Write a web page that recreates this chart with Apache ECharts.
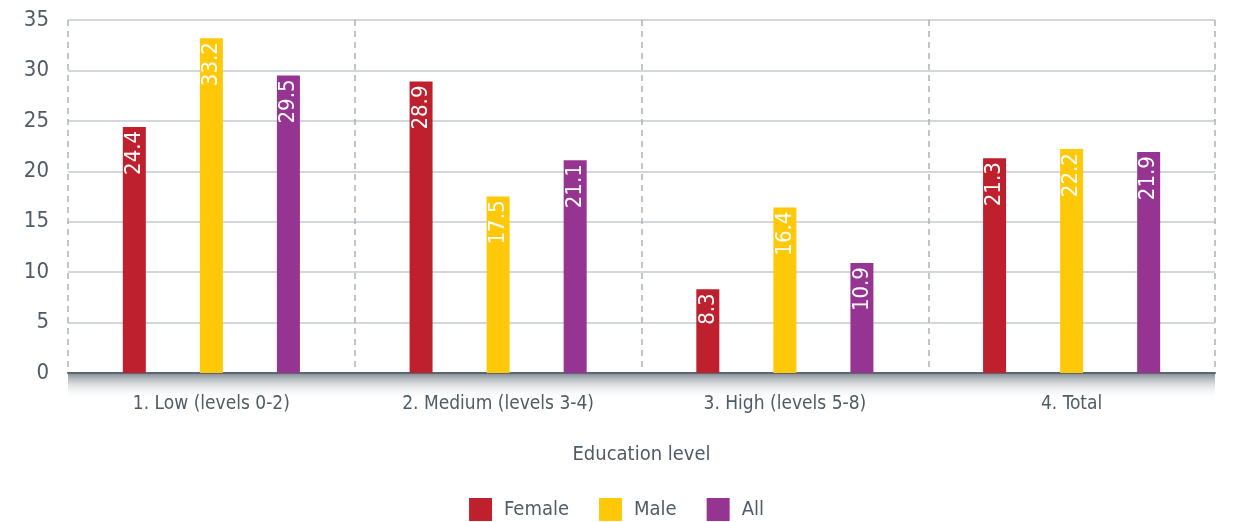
<!DOCTYPE html>
<html>
  <head>
    <meta charset="utf-8" />
    <title>Education level</title>
    <script src="https://cdn.jsdelivr.net/npm/echarts@6/dist/echarts.min.js"></script>
  </head>
  <body style="margin:0;background:#fff;">
    <div id="container" style="width: 1233px;height: 522px;"></div>
    <script type="text/javascript">
    // data
    var categories = ['1. Low (levels 0-2)', '2. Medium (levels 3-4)', '3. High (levels 5-8)', '4. Total'];
    var female = [24.4, 28.9, 8.3, 21.3];
    var male = [33.2, 17.5, 16.4, 22.2];
    var all = [29.5, 21.1, 10.9, 21.9];
    var yTicks = [0, 5, 10, 15, 20, 25, 30, 35];

    var fontFam = "'DejaVu Sans Condensed', 'Liberation Sans Narrow', sans-serif";
    var textCol = '#4f5b66';

    var myChart = echarts.init(document.getElementById('container'));

    function barSeries(name, data, color) {
        return {
            name: name,
            type: 'bar',
            data: data,
            barWidth: 23,
            barGap: '235%',
            itemStyle: { color: color },
            label: {
                show: true,
                position: 'insideTop',
                rotate: 90,
                align: 'right',
                verticalAlign: 'middle',
                distance: 4,
                color: '#fff',
                fontSize: 22,
                fontFamily: fontFam
            }
        };
    }

    var option = {
        animation: false,
        grid: { left: 68, right: 18, top: 20, bottom: 149 },
        legend: {
            bottom: -4,
            itemWidth: 23,
            itemHeight: 23,
            itemGap: 30,
            icon: 'rect',
            textStyle: { fontSize: 20, color: textCol, fontFamily: fontFam, padding: [0, 0, 0, 7] },
            data: ['Female', 'Male', 'All']
        },
        xAxis: {
            type: 'category',
            data: categories,
            name: 'Education level',
            nameLocation: 'middle',
            nameGap: 72,
            nameTextStyle: { fontSize: 20, color: textCol, fontFamily: fontFam },
            axisLine: { lineStyle: { color: '#5a6670', width: 2 } },
            axisTick: { show: false },
            axisLabel: { fontSize: 19, color: textCol, fontFamily: fontFam, margin: 22 },
            splitLine: { show: true, lineStyle: { color: '#aab2b9', type: [6, 5], width: 1.5 } }
        },
        yAxis: {
            type: 'value',
            min: yTicks[0],
            max: yTicks[yTicks.length - 1],
            interval: 5,
            axisLine: { show: false },
            axisTick: { show: false },
            axisLabel: { fontSize: 22, color: textCol, fontFamily: fontFam, margin: 19 },
            splitLine: { lineStyle: { color: '#c5cad0', width: 1.5 } }
        },
        series: [
            barSeries('Female', female, '#be202e'),
            barSeries('Male', male, '#ffc90a'),
            barSeries('All', all, '#963591')
        ]
    };
    myChart.setOption(option);

    // shadow band under the x axis
    var gp = myChart.getModel().getComponent('grid').coordinateSystem.getRect();
    myChart.setOption({
        graphic: [{
            type: 'rect',
            z: -1,
            shape: { x: gp.x, y: gp.y + gp.height + 1, width: gp.width, height: 26 },
            style: {
                fill: new echarts.graphic.LinearGradient(0, 0, 0, 1, [
                    { offset: 0, color: 'rgba(90,102,112,0.7)' },
                    { offset: 0.4, color: 'rgba(150,160,168,0.35)' },
                    { offset: 1, color: 'rgba(255,255,255,0)' }
                ])
            }
        }]
    });

    window.addEventListener('resize', myChart.resize);
    </script>
  </body>
</html>
